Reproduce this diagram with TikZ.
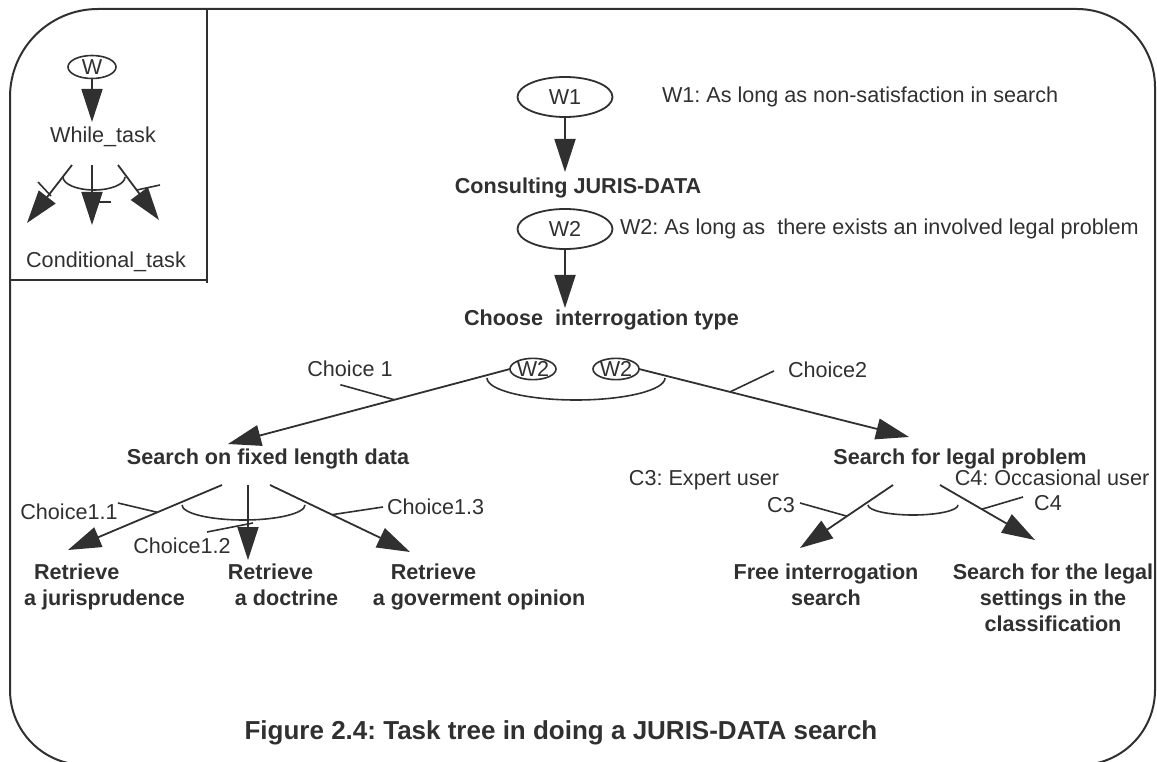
\documentclass[tikz,border=0pt]{standalone}
\usepackage{fontspec}
\setmainfont{Liberation Sans}
\usetikzlibrary{arrows.meta,shapes.geometric,calc}
\definecolor{ink}{HTML}{303030}
\newcommand\lnstrut{\rule[-5.5pt]{0pt}{21.5pt}}
\frenchspacing
\begin{document}
\begin{tikzpicture}[x=1pt,y=-1pt,
  every node/.style={inner sep=0pt, outer sep=0pt, text=ink, font=\fontsize{21.6}{26}\selectfont\frenchspacing},
  bold/.style={font=\fontsize{21.6}{26}\selectfont\bfseries\frenchspacing},
  captionfont/.style={font=\fontsize{26}{30}\selectfont\bfseries\frenchspacing},
  oval/.style={draw=ink, ellipse, line width=1.8pt, minimum width=95pt, minimum height=40pt},
  soval/.style={draw=ink, ellipse, line width=1.6pt, minimum width=46pt, minimum height=21pt},
  arr/.style={draw=ink, line width=1.8pt, -{Triangle[length=33pt,width=21pt]}},
  ln/.style={draw=ink, line width=1.6pt},
  frame/.style={draw=ink, line width=2pt},
]
\useasboundingbox (0,0) rectangle (1157,762);
\clip (0,0) rectangle (1157,762);

% outer frame
\draw[frame] (10,97) arc[start angle=180, end angle=270, radius=88]
  -- (1077,9) arc[start angle=270, end angle=360, radius=78]
  -- (1155,690) arc[start angle=0, end angle=90, radius=75]
  -- (85,765) arc[start angle=90, end angle=180, radius=75] -- cycle;

% legend box
\draw[frame] (207,9) -- (207,283);
\draw[frame] (10,280) -- (207,280);

% legend content
\node[soval, minimum width=48pt, minimum height=23pt] (lw) at (92,67) {W};
\node (lwhile) at (103,137) {While\_task};
\node (lcond) at (106,262) {Conditional\_task};
\coordinate (lwtip) at (92,122);
\draw[arr] (lw.south) -- (lwtip);
\coordinate (lf1) at (72,165);  \coordinate (lt1) at (27,223);
\coordinate (lf2) at (92,165);  \coordinate (lt2) at (92,225);
\coordinate (lf3) at (118,165); \coordinate (lt3) at (159,220);
\draw[arr] (lf1) -- (lt1);
\draw[arr] (lf2) -- (lt2);
\draw[arr] (lf3) -- (lt3);
\draw[ln] (63,177) arc[start angle=180, end angle=0, x radius=31, y radius=13];
\coordinate (lk1a) at (38,182); \coordinate (lk1b) at (51,196);
\coordinate (lk2a) at (92,202); \coordinate (lk2b) at (111,202);
\coordinate (lk3a) at (137,190); \coordinate (lk3b) at (160,185);
\draw[ln] (lk1a) -- (lk1b);
\draw[ln] (lk2a) -- (lk2b);
\draw[ln] (lk3a) -- (lk3b);

% main tree top
\node[oval] (w1) at (565,97) {W1};
\node[anchor=west] (w1t) at (662,97) {W1: As long as non-satisfaction in search};
\node[bold] (cons) at (578,188) {Consulting JURIS-DATA};
\coordinate (w1tip) at (565,172);
\draw[arr] (w1.south) -- (w1tip);

\node[oval] (w2) at (565,229) {W2};
\node[anchor=west] (w2t) at (620,229) {W2: As long as\ \ there exists an involved legal problem};
\coordinate (w2tip) at (565,308);
\draw[arr] (w2.south) -- (w2tip);

\node[bold, anchor=west] (choose) at (464,320) {Choose\ \ interrogation type};

\node[soval] (c1) at (533,369) {W2};
\node[soval] (c2) at (616,369) {W2};
\draw[ln] (487,378) arc[start angle=180, end angle=0, x radius=89, y radius=22];

\coordinate (t1) at (228,444);
\coordinate (t2) at (909,437);
\draw[arr] (c1.west) -- (t1);
\draw[arr] (c2.east) -- (t2);

\node (ch1) at (350,369) {Choice 1};
\coordinate (k1) at ($(c1.west)!0.41!(t1)$);
\draw[ln] (k1) -- ++(-54,-15);
\node[anchor=west] (ch2) at (788,370) {Choice2};
\coordinate (k2) at ($(c2.east)!0.337!(t2)$);
\draw[ln] (k2) -- ++(44,-21);

\node[bold] (sf) at (268,459) {Search on fixed length data};
\node[bold] (sl) at (960,459) {Search for legal problem};

% left subtree
\coordinate (sf1) at (222,485); \coordinate (r1tip) at (68,550);
\coordinate (sf2) at (248,485); \coordinate (r2tip) at (248,560);
\coordinate (sf3) at (270,485); \coordinate (r3tip) at (410,552);
\draw[arr] (sf1) -- (r1tip);
\draw[arr] (sf2) -- (r2tip);
\draw[arr] (sf3) -- (r3tip);
\draw[ln] (182,505) arc[start angle=180, end angle=0, x radius=61.5, y radius=15];

\node (ch11) at (69,512) {Choice1.1};
\coordinate (k11) at ($(sf1)!0.42!(r1tip)$);
\draw[ln] (118,503) -- (k11);
\node (ch12) at (182,546) {Choice1.2};
\coordinate (k12a) at (207,532); \coordinate (k12b) at (253,523);
\draw[ln] (k12a) -- (k12b);
\node[anchor=west] (ch13) at (387,507) {Choice1.3};
\coordinate (k13) at ($(sf3)!0.443!(r3tip)$);
\draw[ln] (k13) -- (383,507);

\node[bold, align=left] (r1) at (104.5,587.6) {\lnstrut\hspace*{10pt}Retrieve\\\lnstrut a jurisprudence};
\node[bold, align=left] (r2) at (283,587.6) {\lnstrut Retrieve\\\lnstrut\hspace*{7pt}a doctrine};
\node[bold, align=left] (r3) at (479,587.6) {\lnstrut\hspace*{18pt}Retrieve\\\lnstrut a goverment opinion};

% right subtree
\node (c3l) at (704,480) {C3: Expert user};
\node (c4l) at (1052,478) {C4: Occasional user};
\coordinate (sl1) at (893,485); \coordinate (f1tip) at (800,548);
\coordinate (sl2) at (940,485); \coordinate (f2tip) at (1035,540);
\draw[arr] (sl1) -- (f1tip);
\draw[arr] (sl2) -- (f2tip);
\draw[ln] (868,505) arc[start angle=180, end angle=0, x radius=45, y radius=10];

\node (c3) at (781,505) {C3};
\coordinate (k3) at ($(sl1)!0.495!(f1tip)$);
\draw[ln] (800,503) -- (k3);
\node (c4) at (1048,503) {C4};
\coordinate (k4) at ($(sl2)!0.44!(f2tip)$);
\draw[ln] (1023,497) -- (k4);

\node[bold, align=center] (f1) at (826,587.6) {\lnstrut Free interrogation\\\lnstrut search};
\node[bold, align=center] (f2) at (1053,600.6) {\lnstrut Search for the legal\\\lnstrut settings in the\\\lnstrut classification};

% caption
\node[captionfont] (cap) at (561,733) {Figure 2.4: Task tree in doing a JURIS-DATA search};
\end{tikzpicture}
\end{document}
